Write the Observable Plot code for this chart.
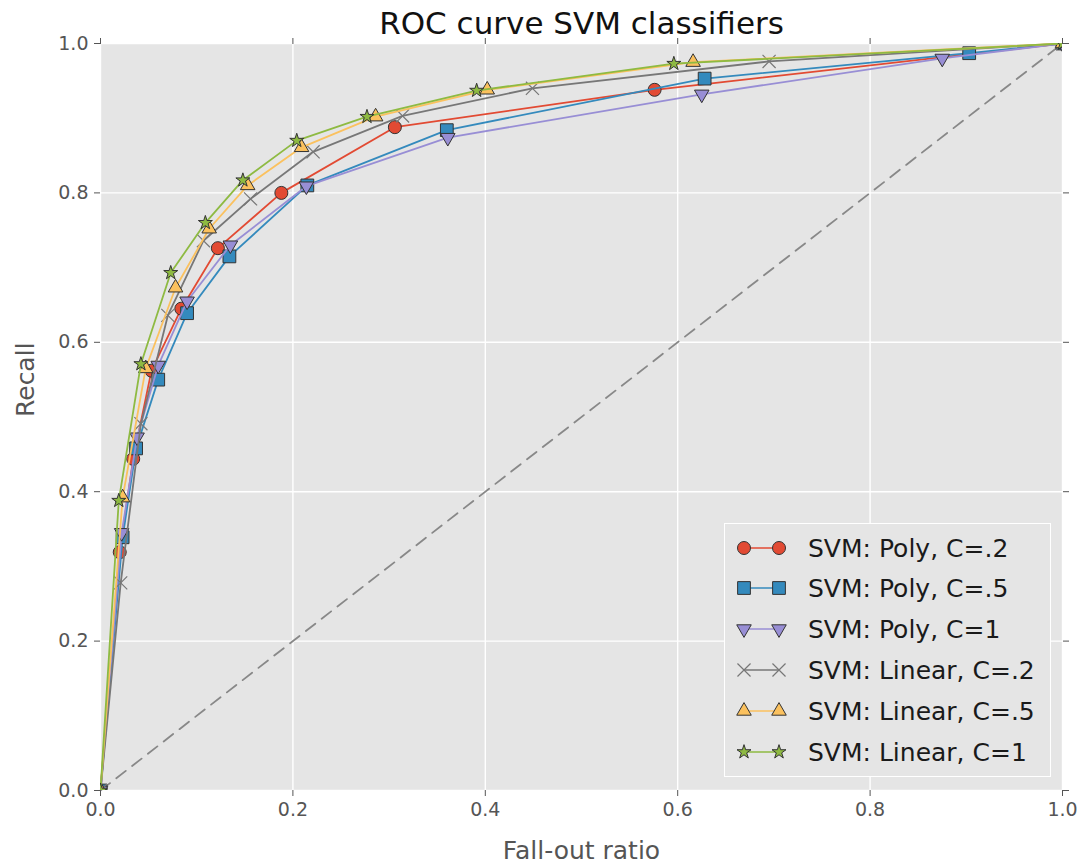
<!DOCTYPE html>
<html>
<head>
<meta charset="utf-8">
<script src="https://cdn.jsdelivr.net/npm/d3@7"></script>
<script src="https://cdn.jsdelivr.net/npm/@observablehq/plot@0.6"></script>
<style>
  html, body { margin: 0; padding: 0; background: #fff; }
  #wrap { position: relative; width: 1081px; height: 866px; font-family: "DejaVu Sans", sans-serif; }
  #legend { position: absolute; left: 724px; top: 523px; width: 325px; height: 252px;
            background: #E5E5E5; border: 1.5px solid #fff; box-sizing: content-box; }
  .row { position: absolute; left: 0; height: 40px; display: flex; align-items: center; }
  .row span { font-size: 25px; color: #1a1a1a; margin-left: 17px; white-space: nowrap; }
</style>
</head>
<body>
<div id="wrap"><div id="legend"></div></div>
<script>
// ---- data ----
const seriesNames = ["SVM: Poly, C=.2", "SVM: Poly, C=.5", "SVM: Poly, C=1",
                     "SVM: Linear, C=.2", "SVM: Linear, C=.5", "SVM: Linear, C=1"];
const polyC2_fpr = [0, 0.020, 0.034, 0.053, 0.084, 0.122, 0.188, 0.306, 0.576, 1];
const polyC2_tpr = [0, 0.319, 0.444, 0.562, 0.645, 0.726, 0.800, 0.888, 0.938, 1];
const polyC5_fpr = [0, 0.023, 0.037, 0.060, 0.090, 0.134, 0.215, 0.360, 0.628, 0.903, 1];
const polyC5_tpr = [0, 0.339, 0.458, 0.550, 0.639, 0.715, 0.810, 0.884, 0.953, 0.987, 1];
const polyC1_fpr = [0, 0.022, 0.038, 0.060, 0.090, 0.135, 0.214, 0.361, 0.625, 0.875, 1];
const polyC1_tpr = [0, 0.345, 0.473, 0.569, 0.655, 0.730, 0.809, 0.874, 0.932, 0.980, 1];
const linC2_fpr  = [0, 0.021, 0.042, 0.070, 0.107, 0.156, 0.221, 0.314, 0.449, 0.695, 1];
const linC2_tpr  = [0, 0.278, 0.491, 0.636, 0.736, 0.792, 0.855, 0.903, 0.940, 0.976, 1];
const linC5_fpr  = [0, 0.023, 0.047, 0.078, 0.113, 0.153, 0.209, 0.286, 0.402, 0.616, 1];
const linC5_tpr  = [0, 0.392, 0.565, 0.673, 0.752, 0.810, 0.861, 0.902, 0.938, 0.975, 1];
const linC1_fpr  = [0, 0.019, 0.042, 0.073, 0.109, 0.148, 0.204, 0.277, 0.391, 0.596, 1];
const linC1_tpr  = [0, 0.388, 0.571, 0.693, 0.760, 0.817, 0.870, 0.902, 0.937, 0.973, 1];
const diagX = [0, 1];
const diagY = [0, 1];
const tickValues = [0, 0.2, 0.4, 0.6, 0.8, 1.0];

// ---- styles ----
const triangleDown = {
  draw(context, size) {
    const s3 = Math.sqrt(3);
    const y = Math.sqrt(size / (s3 * 3));
    context.moveTo(0, y * 2);
    context.lineTo(-s3 * y, -y);
    context.lineTo(s3 * y, -y);
    context.closePath();
  }
};
const styles = [
  {color: "#E24A33", symbol: "circle",   d3sym: d3.symbolCircle,   r: 6.5, edge: "#333"},
  {color: "#348ABD", symbol: "square",   d3sym: d3.symbolSquare,   r: 7.2, edge: "#333"},
  {color: "#988ED5", symbol: triangleDown, d3sym: triangleDown,    r: 5.4, edge: "#333"},
  {color: "#777777", symbol: "times",    d3sym: d3.symbolTimes,    r: 6.0, edge: null},
  {color: "#FBC15E", symbol: "triangle", d3sym: d3.symbolTriangle, r: 5.4, edge: "#333"},
  {color: "#8EBA42", symbol: "star",     d3sym: d3.symbolStar,     r: 4.4, edge: "#333"}
];
const xs = [polyC2_fpr, polyC5_fpr, polyC1_fpr, linC2_fpr, linC5_fpr, linC1_fpr];
const ys = [polyC2_tpr, polyC5_tpr, polyC1_tpr, linC2_tpr, linC5_tpr, linC1_tpr];
const series = seriesNames.map((name, i) => xs[i].map((x, j) => ({name, x, y: ys[i][j]})));
const diag = diagX.map((x, i) => ({x, y: diagY[i]}));

const marks = [
  Plot.frame({fill: "#E5E5E5", stroke: null}),
  Plot.gridX({ticks: tickValues, stroke: "#fff", strokeOpacity: 1, strokeWidth: 1.4}),
  Plot.gridY({ticks: tickValues, stroke: "#fff", strokeOpacity: 1, strokeWidth: 1.4}),
  Plot.line(diag, {x: "x", y: "y", stroke: "#888", strokeWidth: 1.8, strokeDasharray: "12,8"}),
];
series.forEach((data, i) => {
  const st = styles[i];
  marks.push(Plot.line(data, {x: "x", y: "y", stroke: st.color, strokeWidth: 1.8, clip: true}));
  if (st.edge) {
    marks.push(Plot.dot(data, {x: "x", y: "y", symbol: st.symbol, r: st.r, fill: st.color,
      stroke: st.edge, strokeWidth: 1, clip: true}));
  } else {
    marks.push(Plot.dot(data, {x: "x", y: "y", symbol: st.symbol, r: st.r, fill: "none",
      stroke: st.color, strokeWidth: 1.2, clip: true}));
  }
});
marks.push(
  Plot.axisX({anchor: "bottom", ticks: tickValues, tickFormat: d3.format(".1f"), tickSize: 6,
    tickPadding: 6, fontSize: 19, color: "#555", label: null}),
  Plot.axisX({anchor: "top", ticks: tickValues, tickFormat: () => "", tickSize: 6, color: "#555", label: null}),
  Plot.axisY({anchor: "left", ticks: tickValues, tickFormat: d3.format(".1f"), tickSize: 6,
    tickPadding: 6, fontSize: 19, color: "#555", label: null}),
  Plot.axisY({anchor: "right", ticks: tickValues, tickFormat: () => "", tickSize: 6, color: "#555", label: null}),
  Plot.text(["ROC curve SVM classifiers"], {text: d => d, frameAnchor: "top", lineAnchor: "bottom",
    dy: -10, fontSize: 31, fill: "#111"}),
  Plot.text(["Fall-out ratio"], {text: d => d, frameAnchor: "bottom", lineAnchor: "bottom",
    dy: 68, fontSize: 25, fill: "#555"}),
  Plot.text(["Recall"], {text: d => d, frameAnchor: "left", lineAnchor: "bottom", rotate: -90,
    dx: -67, fontSize: 25, fill: "#555"})
);

const chart = Plot.plot({
  width: 1081, height: 866,
  marginLeft: 100, marginRight: 19, marginTop: 43, marginBottom: 76,
  x: {domain: [0, 1]},
  y: {domain: [0, 1]},
  style: {fontFamily: "DejaVu Sans", background: "#fff"},
  marks
});
document.getElementById("wrap").prepend(chart);

// ---- legend ----
const legend = d3.select("#legend");
const rowTops = [4, 44, 85, 126, 167, 208];
seriesNames.forEach((name, i) => {
  const st = styles[i];
  const row = legend.append("div").attr("class", "row").style("top", rowTops[i] + "px");
  const svg = row.append("svg").attr("width", 60).attr("height", 40).style("margin-left", "6px");
  svg.append("line").attr("x1", 13).attr("x2", 48).attr("y1", 20).attr("y2", 20)
    .attr("stroke", st.color).attr("stroke-width", 1.7);
  const sym = d3.symbol(st.d3sym, Math.PI * st.r * st.r)();
  [13, 48].forEach(cx => {
    const p = svg.append("path").attr("d", sym).attr("transform", `translate(${cx},20)`);
    if (st.edge) p.attr("fill", st.color).attr("stroke", st.edge).attr("stroke-width", 1);
    else p.attr("fill", "none").attr("stroke", st.color).attr("stroke-width", 1.2);
  });
  row.append("span").text(name);
});
</script>
</body>
</html>
